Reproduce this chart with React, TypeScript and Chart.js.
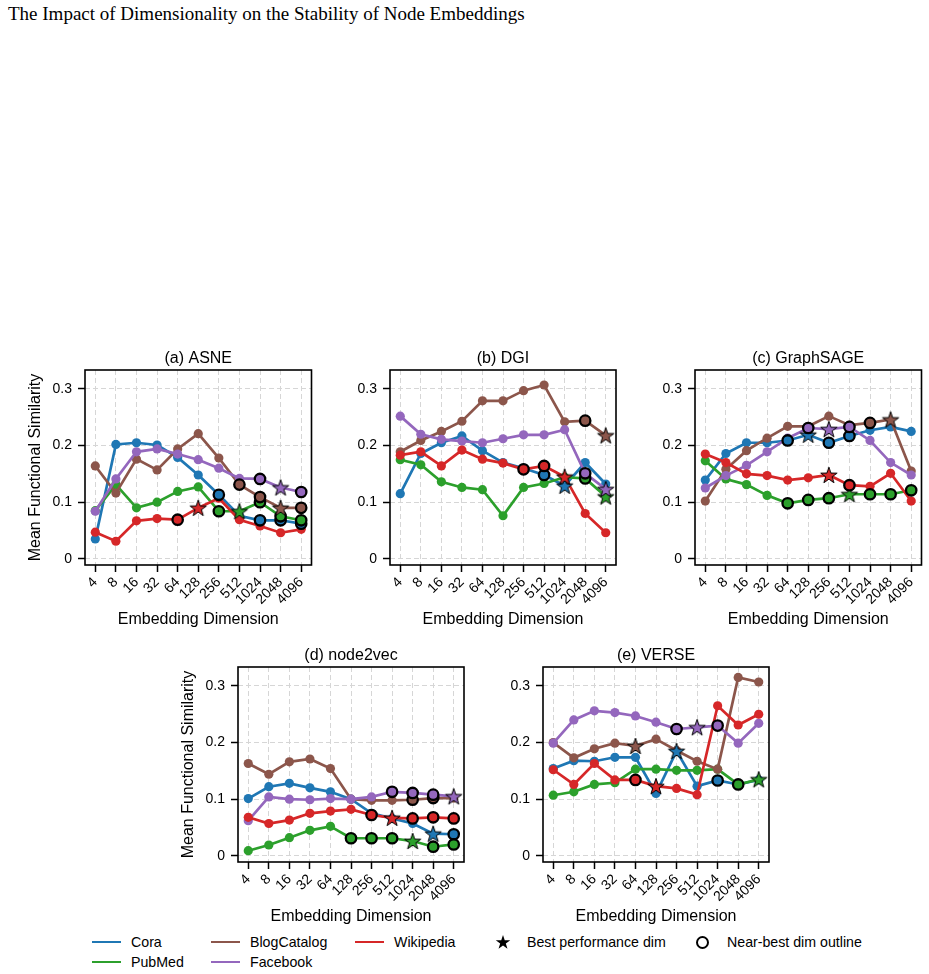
import React, { useEffect, useRef } from 'react';
import { Chart, registerables } from 'chart.js';

Chart.register(...registerables);

const FONT = '"Liberation Sans", Arial, Helvetica, sans-serif';

// ---- categories / ticks ----
const DIMS = ['4', '8', '16', '32', '64', '128', '256', '512', '1024', '2048', '4096'];
const SERIES_NAMES = ['Cora', 'PubMed', 'BlogCatalog', 'Facebook', 'Wikipedia'];
const COLORS = ['#1f77b4', '#2ca02c', '#8c564b', '#9467bd', '#d62728'];
const Y_TICKS = [0, 0.1, 0.2, 0.3];
const Y_TICK_LABELS = ['0', '0.1', '0.2', '0.3'];

// ---- (a) ASNE ----
const ASNE_CORA = [0.035, 0.202, 0.205, 0.201, 0.179, 0.148, 0.113, 0.076, 0.068, 0.068, 0.062];
const ASNE_PUBMED = [0.085, 0.131, 0.090, 0.100, 0.119, 0.127, 0.084, 0.084, 0.100, 0.075, 0.068];
const ASNE_BLOG = [0.164, 0.116, 0.176, 0.157, 0.194, 0.221, 0.178, 0.131, 0.109, 0.090, 0.090];
const ASNE_FB = [0.084, 0.141, 0.189, 0.194, 0.185, 0.175, 0.160, 0.142, 0.141, 0.126, 0.118];
const ASNE_WIKI = [0.047, 0.031, 0.067, 0.071, 0.069, 0.090, 0.107, 0.069, 0.058, 0.046, 0.052];
const ASNE_BEST = [-1, 7, 9, 9, 5];
const ASNE_NEAR = [[6, 8, 9, 10], [6, 8, 9, 10], [7, 8, 10], [8, 10], [4]];

// ---- (b) DGI ----
const DGI_CORA = [0.115, 0.186, 0.205, 0.217, 0.191, 0.170, 0.160, 0.148, 0.129, 0.170, 0.132];
const DGI_PUBMED = [0.175, 0.166, 0.136, 0.126, 0.122, 0.076, 0.126, 0.133, 0.144, 0.142, 0.110];
const DGI_BLOG = [0.189, 0.209, 0.225, 0.243, 0.279, 0.279, 0.297, 0.307, 0.242, 0.244, 0.218];
const DGI_FB = [0.252, 0.220, 0.211, 0.208, 0.205, 0.212, 0.219, 0.219, 0.228, 0.151, 0.123];
const DGI_WIKI = [0.183, 0.189, 0.164, 0.192, 0.176, 0.169, 0.158, 0.164, 0.145, 0.080, 0.046];
const DGI_BEST = [8, 10, 10, 10, 8];
const DGI_NEAR = [[7], [9], [9], [9], [6, 7]];

// ---- (c) GraphSAGE ----
const SAGE_CORA = [0.139, 0.186, 0.205, 0.205, 0.209, 0.219, 0.205, 0.217, 0.227, 0.233, 0.225];
const SAGE_PUBMED = [0.173, 0.141, 0.131, 0.112, 0.098, 0.104, 0.107, 0.114, 0.114, 0.114, 0.121];
const SAGE_BLOG = [0.102, 0.158, 0.191, 0.213, 0.234, 0.234, 0.252, 0.236, 0.240, 0.246, 0.155];
const SAGE_FB = [0.125, 0.147, 0.165, 0.189, 0.213, 0.231, 0.229, 0.233, 0.209, 0.170, 0.148];
const SAGE_WIKI = [0.185, 0.170, 0.150, 0.147, 0.139, 0.143, 0.148, 0.130, 0.128, 0.151, 0.102];
const SAGE_BEST = [5, 7, 9, 6, 6];
const SAGE_NEAR = [[4, 6, 7], [4, 5, 6, 8, 9, 10], [8], [5, 7], [7]];

// ---- (d) node2vec ----
const N2V_CORA = [0.101, 0.122, 0.128, 0.120, 0.113, 0.100, 0.075, 0.066, 0.057, 0.039, 0.038];
const N2V_PUBMED = [0.009, 0.019, 0.032, 0.045, 0.052, 0.031, 0.031, 0.031, 0.026, 0.016, 0.020];
const N2V_BLOG = [0.163, 0.144, 0.166, 0.171, 0.154, 0.100, 0.098, 0.098, 0.099, 0.102, 0.102];
const N2V_FB = [0.062, 0.104, 0.100, 0.099, 0.101, 0.100, 0.104, 0.113, 0.111, 0.108, 0.105];
const N2V_WIKI = [0.068, 0.057, 0.063, 0.075, 0.079, 0.082, 0.072, 0.067, 0.066, 0.068, 0.066];
const N2V_BEST = [9, 8, -1, 10, 7];
const N2V_NEAR = [[10], [5, 6, 7, 9, 10], [8, 9], [7, 8, 9], [6, 8, 9, 10]];

// ---- (e) VERSE ----
const VERSE_CORA = [0.154, 0.168, 0.167, 0.174, 0.174, 0.110, 0.185, 0.123, 0.133, 0.126, 0.134];
const VERSE_PUBMED = [0.107, 0.113, 0.126, 0.129, 0.153, 0.153, 0.151, 0.151, 0.153, 0.126, 0.135];
const VERSE_BLOG = [0.200, 0.173, 0.189, 0.199, 0.194, 0.206, 0.186, 0.167, 0.153, 0.315, 0.307];
const VERSE_FB = [0.199, 0.240, 0.256, 0.253, 0.247, 0.236, 0.224, 0.227, 0.230, 0.199, 0.234];
const VERSE_WIKI = [0.152, 0.126, 0.163, 0.134, 0.134, 0.123, 0.119, 0.108, 0.265, 0.231, 0.250];
const VERSE_BEST = [6, 10, 4, 7, 5];
const VERSE_NEAR = [[8], [9], [], [6, 8], [4]];

// ---- layout ----
const PLOT_W = 228;
const PLOT_H = 195;
const AXIS_W = 70;
const AXIS_H = 64;
const PAD_TOP = 30;
const PAD_RIGHT = 6;
const CANVAS_W = AXIS_W + PLOT_W + PAD_RIGHT;
const CANVAS_H = PAD_TOP + PLOT_H + AXIS_H;
const GRID_COLOR = '#d6d6d6';

type PanelDef = {
  title: string;
  series: number[][];
  best: number[];
  near: number[][];
  left: number;
  top: number;
  yTitle: boolean;
};

const PANELS: PanelDef[] = [
  { title: '(a) ASNE', series: [ASNE_CORA, ASNE_PUBMED, ASNE_BLOG, ASNE_FB, ASNE_WIKI], best: ASNE_BEST, near: ASNE_NEAR, left: 85, top: 370, yTitle: true },
  { title: '(b) DGI', series: [DGI_CORA, DGI_PUBMED, DGI_BLOG, DGI_FB, DGI_WIKI], best: DGI_BEST, near: DGI_NEAR, left: 390, top: 370, yTitle: false },
  { title: '(c) GraphSAGE', series: [SAGE_CORA, SAGE_PUBMED, SAGE_BLOG, SAGE_FB, SAGE_WIKI], best: SAGE_BEST, near: SAGE_NEAR, left: 695, top: 370, yTitle: false },
  { title: '(d) node2vec', series: [N2V_CORA, N2V_PUBMED, N2V_BLOG, N2V_FB, N2V_WIKI], best: N2V_BEST, near: N2V_NEAR, left: 238, top: 667, yTitle: true },
  { title: '(e) VERSE', series: [VERSE_CORA, VERSE_PUBMED, VERSE_BLOG, VERSE_FB, VERSE_WIKI], best: VERSE_BEST, near: VERSE_NEAR, left: 543, top: 667, yTitle: false },
];

function starPoints(cx: number, cy: number, R: number): [number, number][] {
  const pts: [number, number][] = [];
  for (let k = 0; k < 10; k++) {
    const a = -Math.PI / 2 + (k * Math.PI) / 5;
    const r = k % 2 === 0 ? R : R * 0.39;
    pts.push([cx + r * Math.cos(a), cy + r * Math.sin(a)]);
  }
  return pts;
}

const starCache: Record<string, HTMLCanvasElement> = {};
function starImage(color: string): HTMLCanvasElement {
  if (starCache[color]) return starCache[color];
  const s = 22;
  const c = document.createElement('canvas');
  c.width = s;
  c.height = s;
  const ctx = c.getContext('2d')!;
  const pts = starPoints(s / 2, s / 2 + 0.8, 8.6);
  ctx.beginPath();
  pts.forEach(([x, y], i) => (i === 0 ? ctx.moveTo(x, y) : ctx.lineTo(x, y)));
  ctx.closePath();
  ctx.fillStyle = color;
  ctx.fill();
  ctx.lineWidth = 1;
  ctx.strokeStyle = '#000';
  ctx.lineJoin = 'miter';
  ctx.stroke();
  starCache[color] = c;
  return c;
}

function Panel({ def }: { def: PanelDef }) {
  const ref = useRef<HTMLCanvasElement>(null);
  useEffect(() => {
    if (!ref.current) return;
    const lineSets = def.series.map((vals, i) => {
      const special = (k: number) => def.best[i] === k || def.near[i].includes(k);
      return {
        label: SERIES_NAMES[i],
        data: vals,
        borderColor: COLORS[i],
        backgroundColor: COLORS[i],
        borderWidth: 2.7,
        tension: 0,
        pointRadius: vals.map((_, k) => (special(k) ? 0 : 4.6)),
        pointBackgroundColor: COLORS[i],
        pointBorderWidth: 0,
        pointHoverRadius: 0,
        order: 10 - i,
      };
    });
    const markerSets = def.series.map((vals, i) => {
      const isBest = (k: number) => def.best[i] === k;
      const isNear = (k: number) => def.near[i].includes(k);
      return {
        label: SERIES_NAMES[i] + ' markers',
        data: vals.map((v, k) => (isBest(k) || isNear(k) ? v : null)),
        showLine: false,
        borderColor: '#000',
        backgroundColor: COLORS[i],
        pointStyle: vals.map((_, k) => (isBest(k) ? starImage(COLORS[i]) : 'circle')),
        pointRadius: vals.map((_, k) => (isBest(k) ? 8 : 5.2)),
        pointBackgroundColor: COLORS[i],
        pointBorderColor: '#000',
        pointBorderWidth: vals.map((_, k) => (isBest(k) ? 0 : 2.3)),
        pointHoverRadius: 0,
        order: 5 - i,
      };
    });

    const framePlugin = {
      id: 'frameAndTitle',
      afterDraw(chart: any) {
        const { ctx, chartArea: a } = chart;
        ctx.save();
        ctx.strokeStyle = '#000';
        ctx.lineWidth = 1.6;
        ctx.strokeRect(a.left, a.top, a.right - a.left, a.bottom - a.top);
        ctx.fillStyle = '#000';
        ctx.font = `16px ${FONT}`;
        ctx.textAlign = 'center';
        ctx.textBaseline = 'alphabetic';
        ctx.fillText(def.title, (a.left + a.right) / 2, a.top - 7);
        ctx.restore();
      },
    };

    const chart = new Chart(ref.current, {
      type: 'line',
      data: { labels: DIMS, datasets: [...lineSets, ...markerSets] as any },
      options: {
        animation: false,
        responsive: false,
        devicePixelRatio: 1,
        events: [],
        layout: { padding: { top: PAD_TOP, right: PAD_RIGHT, left: 0, bottom: 0 } },
        plugins: {
          legend: { display: false },
          title: { display: false },
          tooltip: { enabled: false },
        },
        scales: {
          x: {
            type: 'category',
            offset: true,
            grid: {
              color: GRID_COLOR,
              lineWidth: 1,
              offset: false,
              drawTicks: true,
              tickLength: 7,
              tickColor: '#000',
              tickWidth: 1.5,
            },
            border: { display: false, dash: [5, 3] },
            ticks: {
              autoSkip: false,
              maxRotation: 45,
              minRotation: 45,
              color: '#000',
              padding: 2,
              font: { family: FONT, size: 14 },
            },
            title: {
              display: true,
              text: 'Embedding Dimension',
              color: '#000',
              font: { family: FONT, size: 16 },
              padding: { top: 0, bottom: 0 },
            },
            afterFit: (s: any) => {
              s.height = AXIS_H;
            },
          },
          y: {
            type: 'linear',
            min: -0.011,
            max: 0.3335,
            afterBuildTicks: (s: any) => {
              s.ticks = Y_TICKS.map((v) => ({ value: v }));
            },
            grid: {
              color: GRID_COLOR,
              lineWidth: 1,
              drawTicks: true,
              tickLength: 7,
              tickColor: '#000',
              tickWidth: 1.5,
            },
            border: { display: false, dash: [5, 3] },
            ticks: {
              color: '#000',
              padding: 6,
              font: { family: FONT, size: 14 },
              callback: (v: any) => {
                const idx = Y_TICKS.findIndex((t) => Math.abs(t - Number(v)) < 1e-9);
                return idx >= 0 ? Y_TICK_LABELS[idx] : '';
              },
            },
            title: {
              display: def.yTitle,
              text: 'Mean Functional Similarity',
              color: '#000',
              font: { family: FONT, size: 16 },
              padding: { top: 11, bottom: 0 },
            },
            afterFit: (s: any) => {
              s.width = AXIS_W;
            },
          },
        },
      } as any,
      plugins: [framePlugin],
    });
    return () => chart.destroy();
  }, [def]);

  return (
    <canvas
      ref={ref}
      width={CANVAS_W}
      height={CANVAS_H}
      style={{
        position: 'absolute',
        left: def.left - AXIS_W,
        top: def.top - PAD_TOP,
        width: CANVAS_W,
        height: CANVAS_H,
      }}
    />
  );
}

// ---- legend ----
type LegendEntry = { label: string; kind: 'line' | 'star' | 'ring'; color: string; x: number; y: number };
const LEGEND_ENTRIES: LegendEntry[] = [
  { label: 'Cora', kind: 'line', color: COLORS[0], x: 92, y: 942 },
  { label: 'PubMed', kind: 'line', color: COLORS[1], x: 92, y: 962 },
  { label: 'BlogCatalog', kind: 'line', color: COLORS[2], x: 211, y: 942 },
  { label: 'Facebook', kind: 'line', color: COLORS[3], x: 211, y: 962 },
  { label: 'Wikipedia', kind: 'line', color: COLORS[4], x: 355, y: 942 },
  { label: 'Best performance dim', kind: 'star', color: '#000', x: 488, y: 942 },
  { label: 'Near-best dim outline', kind: 'ring', color: '#000', x: 688, y: 942 },
];

function LegendHandle({ e }: { e: LegendEntry }) {
  if (e.kind === 'line') {
    return <div style={{ width: 29, height: 2.7, background: e.color }} />;
  }
  if (e.kind === 'star') {
    const pts = starPoints(8, 8.6, 7.6)
      .map(([x, y]) => `${x.toFixed(2)},${y.toFixed(2)}`)
      .join(' ');
    return (
      <div style={{ width: 29, display: 'flex', justifyContent: 'center' }}>
        <svg width={16} height={16} viewBox="0 0 16 16">
          <polygon points={pts} fill="#000" />
        </svg>
      </div>
    );
  }
  return (
    <div style={{ width: 29, display: 'flex', justifyContent: 'center' }}>
      <div style={{ width: 9, height: 9, border: '2.2px solid #000', borderRadius: '50%' }} />
    </div>
  );
}

export default function App() {
  return (
    <div
      style={{
        position: 'absolute',
        left: 0,
        top: 0,
        width: 929,
        height: 974,
        background: '#fff',
        overflow: 'hidden',
      }}
    >
      <div
        style={{
          position: 'absolute',
          left: 8,
          top: 3,
          fontFamily: '"Liberation Serif", "Times New Roman", Times, serif',
          fontSize: 19,
          color: '#000',
          whiteSpace: 'nowrap',
        }}
      >
        The Impact of Dimensionality on the Stability of Node Embeddings
      </div>
      {PANELS.map((p) => (
        <Panel key={p.title} def={p} />
      ))}
      {LEGEND_ENTRIES.map((e) => (
        <div
          key={e.label}
          style={{
            position: 'absolute',
            left: e.x,
            top: e.y - 10,
            height: 20,
            display: 'flex',
            alignItems: 'center',
            fontFamily: FONT,
            fontSize: 14.2,
            color: '#000',
            whiteSpace: 'nowrap',
          }}
        >
          <LegendHandle e={e} />
          <span style={{ marginLeft: 10 }}>{e.label}</span>
        </div>
      ))}
    </div>
  );
}
